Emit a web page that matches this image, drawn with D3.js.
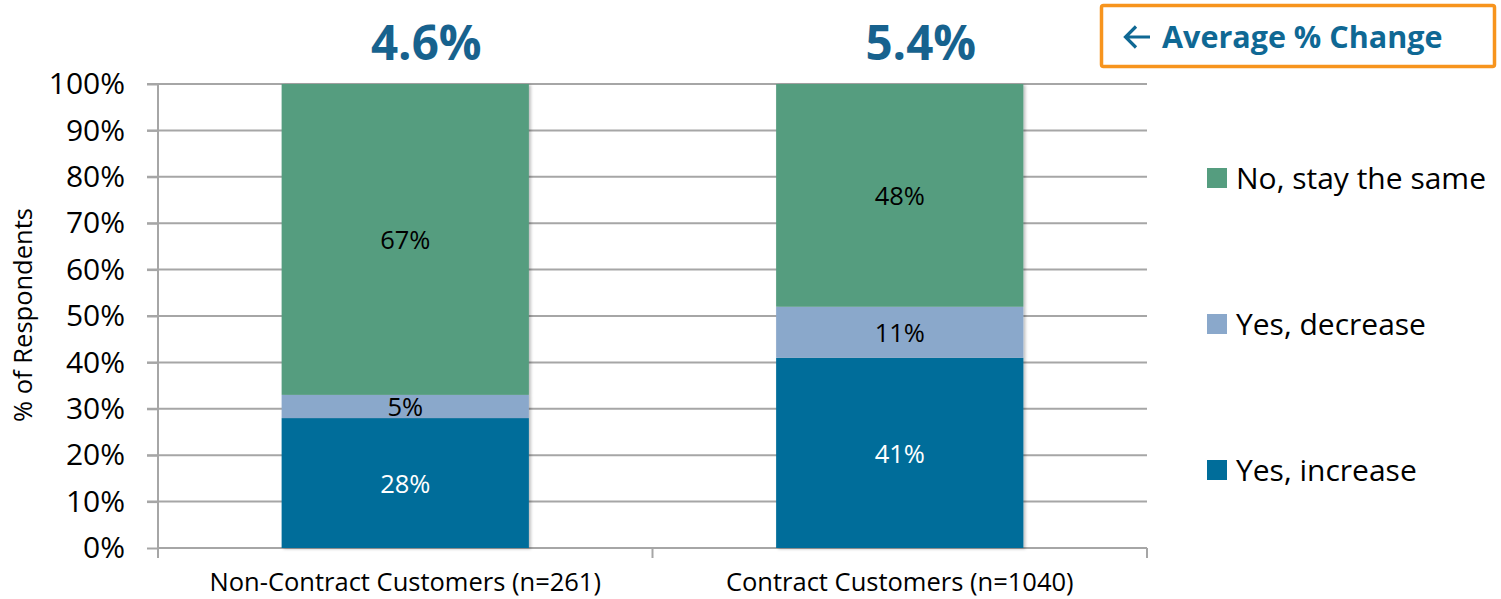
<!DOCTYPE html>
<html><head><meta charset="utf-8">
<script src="https://cdn.jsdelivr.net/npm/d3@7"></script>
<style>body{margin:0;background:#fff}svg{display:block}text{font-family:"Open Sans","Noto Sans",sans-serif}</style>
</head><body>
<script>
const categories = ["Non-Contract Customers (n=261)", "Contract Customers (n=1040)"];
const seriesNames = ["Yes, increase", "Yes, decrease", "No, stay the same"];
const increase = [28, 41];
const decrease = [5, 11];
const same = [67, 48];
const avgChange = ["4.6%", "5.4%"];
const yTicks = [0,10,20,30,40,50,60,70,80,90,100];
const colors = ["#006d9a", "#8aa8cb", "#559d7f"];
const labelColors = ["#ffffff", "#000000", "#000000"];

const W = 1501, H = 599;
const svg = d3.select("body").append("svg").attr("width", W).attr("height", H);
const x = d3.scaleBand().domain(categories).range([158, 1147]).paddingInner(0.5).paddingOuter(0.25);
const y = d3.scaleLinear().domain([0, 100]).range([548, 84]);

// gridlines
svg.append("g").selectAll("line").data(yTicks.filter(d => d > 0)).join("line")
  .attr("x1", 147).attr("x2", 1147).attr("y1", d => y(d)).attr("y2", d => y(d))
  .attr("stroke", "#a6a6a6").attr("stroke-width", 2);

// y axis
const yAxis = svg.append("g").attr("transform", "translate(158,0)")
  .call(d3.axisLeft(y).tickValues(yTicks).tickFormat(d => d + "%").tickSize(11).tickPadding(22));
yAxis.select(".domain").attr("stroke", "#a6a6a6").attr("stroke-width", 2).attr("d", `M0,${y(100)}V${y(0)}`);
yAxis.selectAll(".tick line").attr("stroke", "#a6a6a6").attr("stroke-width", 2);
yAxis.selectAll(".tick text").attr("font-size", 30).attr("fill", "#000").attr("font-family", '"Open Sans",sans-serif');

// x axis
const xAxis = svg.append("g").attr("transform", `translate(0,${y(0)})`)
  .call(d3.axisBottom(x).tickSize(0).tickPadding(25));
xAxis.select(".domain").attr("stroke", "#a6a6a6").attr("stroke-width", 2).attr("d", "M158,0H1147");
xAxis.selectAll(".tick text").attr("font-size", 25.5).attr("fill", "#000").attr("font-family", '"Open Sans",sans-serif');
const sepTicks = [158, 158 + x.step(), 1147];
xAxis.append("g").selectAll("line").data(sepTicks).join("line")
  .attr("x1", d => d).attr("x2", d => d).attr("y1", 0).attr("y2", 10)
  .attr("stroke", "#a6a6a6").attr("stroke-width", 2);

// stack
const rows = categories.map((c, i) => ({cat: c, "Yes, increase": increase[i], "Yes, decrease": decrease[i], "No, stay the same": same[i]}));
const stacked = d3.stack().keys(seriesNames)(rows);

const defs = svg.append("defs");
const f = defs.append("filter").attr("id", "sh").attr("x", "-5%").attr("y", "-5%").attr("width", "115%").attr("height", "115%");
f.append("feDropShadow").attr("dx", 2).attr("dy", 1).attr("stdDeviation", 1.5).attr("flood-color", "#000").attr("flood-opacity", 0.25);

const gBars = svg.append("g").attr("filter", "url(#sh)");
stacked.forEach((s, si) => {
  gBars.append("g").selectAll("rect").data(s).join("rect")
    .attr("x", d => x(d.data.cat)).attr("width", x.bandwidth())
    .attr("y", d => y(d[1])).attr("height", d => y(d[0]) - y(d[1]))
    .attr("fill", colors[si]);
});
stacked.forEach((s, si) => {
  svg.append("g").selectAll("text").data(s).join("text")
    .attr("x", d => x(d.data.cat) + x.bandwidth() / 2)
    .attr("y", d => (y(d[0]) + y(d[1])) / 2)
    .attr("dy", "0.38em").attr("text-anchor", "middle")
    .attr("font-size", 25.5).attr("fill", labelColors[si])
    .text(d => (d[1] - d[0]) + "%");
});

// average labels
svg.append("g").selectAll("text").data(categories).join("text")
  .attr("x", d => x(d) + x.bandwidth() / 2 + 21).attr("y", 60)
  .attr("text-anchor", "middle").attr("font-size", 47.5).attr("font-weight", "bold")
  .attr("fill", "#17628e").text((d, i) => avgChange[i]);

// legend
const legendY = [470, 324, 178];
const lg = svg.append("g").selectAll("g").data(seriesNames).join("g")
  .attr("transform", (d, i) => `translate(1207,${legendY[i]})`);
lg.append("rect").attr("x", 0).attr("y", -10).attr("width", 20).attr("height", 20).attr("fill", (d, i) => colors[i]);
lg.append("text").attr("x", 29).attr("dy", "0.36em").attr("font-size", 30).attr("fill", "#000").text(d => d);

// callout box
svg.append("rect").attr("x", 1101.5).attr("y", 5.5).attr("width", 393).attr("height", 61).attr("rx", 2)
  .attr("fill", "#fff").attr("stroke", "#f7941d").attr("stroke-width", 3.5);
svg.append("path").attr("d", "M1150,37H1126M1136,26.5L1125.5,37L1136,47.5")
  .attr("fill", "none").attr("stroke", "#0f6894").attr("stroke-width", 3.2);
svg.append("text").attr("x", 1162).attr("y", 48).attr("font-size", 30.5).attr("font-weight", "bold")
  .attr("fill", "#0f6894").text("Average % Change");

// y title
svg.append("text").attr("transform", "translate(32,315) rotate(-90)").attr("text-anchor", "middle")
  .attr("font-size", 25.5).attr("fill", "#000").text("% of Respondents");
</script>
</body></html>
